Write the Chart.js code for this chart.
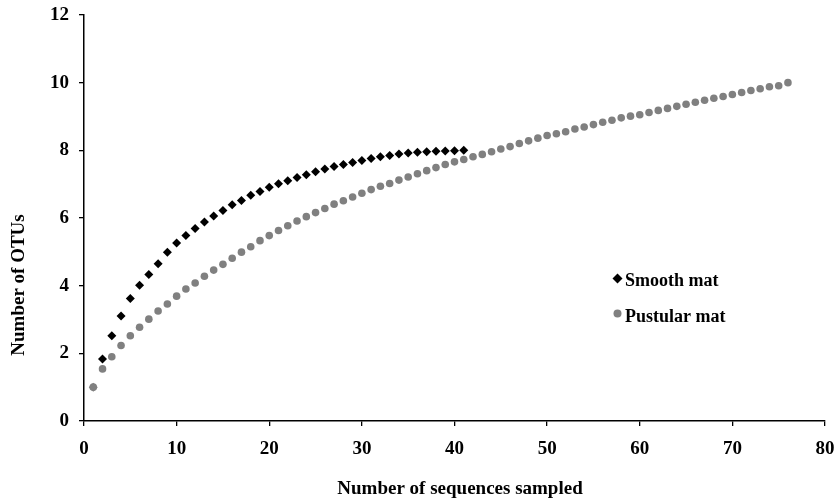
<!DOCTYPE html>
<html>
<head>
<meta charset="utf-8">
<script src="https://cdn.jsdelivr.net/npm/chart.js@4.4.1/dist/chart.umd.min.js"></script>
<style>
  html, body { margin: 0; padding: 0; background: #fff; }
  #wrap { width: 835px; height: 502px; }
</style>
</head>
<body>
<div id="wrap"><canvas id="myChart" width="835" height="502"></canvas></div>
<script>
// data (x = number of sequences sampled, starting at 1)
const smoothLabel = 'Smooth mat';
const pustularLabel = 'Pustular mat';
const smoothValues = [
  1.00, 1.83, 2.52, 3.10, 3.62, 4.01, 4.33, 4.65, 4.99, 5.26,
  5.48, 5.69, 5.88, 6.06, 6.22, 6.39, 6.52, 6.67, 6.78, 6.91,
  7.01, 7.10, 7.20, 7.28, 7.37, 7.45, 7.52, 7.58, 7.64, 7.70,
  7.76, 7.81, 7.85, 7.89, 7.92, 7.94, 7.96, 7.97, 7.98, 7.99,
  8.00
];
const pustularValues = [
  1.00, 1.54, 1.90, 2.23, 2.52, 2.77, 3.01, 3.25, 3.46, 3.69,
  3.90, 4.08, 4.28, 4.46, 4.63, 4.81, 4.99, 5.15, 5.33, 5.48,
  5.63, 5.77, 5.91, 6.04, 6.16, 6.28, 6.41, 6.51, 6.62, 6.73,
  6.84, 6.94, 7.02, 7.12, 7.21, 7.31, 7.40, 7.49, 7.58, 7.66,
  7.73, 7.81, 7.88, 7.96, 8.04, 8.11, 8.20, 8.28, 8.36, 8.44,
  8.49, 8.55, 8.63, 8.69, 8.76, 8.83, 8.89, 8.96, 9.01, 9.05,
  9.12, 9.18, 9.24, 9.30, 9.36, 9.42, 9.48, 9.54, 9.59, 9.65,
  9.71, 9.77, 9.82, 9.88, 9.91, 10.00
];
const xTitle = 'Number of sequences sampled';
const yTitle = 'Number of OTUs';

const toPoints = vals => vals.map((v, i) => ({ x: i + 1, y: v }));

const FONT = '"Liberation Serif", "Times New Roman", serif';

// axis titles and legend drawn by hand so they sit where the original has them
const extras = {
  id: 'extras',
  afterDraw(chart) {
    const ctx = chart.ctx;
    ctx.save();
    ctx.fillStyle = '#000';
    ctx.font = 'bold 19px ' + FONT;
    ctx.textAlign = 'center';
    ctx.textBaseline = 'middle';
    ctx.fillText(xTitle, 460, 489);

    ctx.translate(19, 285);
    ctx.rotate(-Math.PI / 2);
    ctx.fillText(yTitle, 0, 0);
    ctx.restore();

    // legend
    ctx.save();
    ctx.font = 'bold 18px ' + FONT;
    ctx.textAlign = 'left';
    ctx.textBaseline = 'middle';
    ctx.fillStyle = '#000';
    ctx.beginPath();
    ctx.moveTo(617.5, 273.5); ctx.lineTo(622.5, 278.5); ctx.lineTo(617.5, 283.5); ctx.lineTo(612.5, 278.5);
    ctx.closePath();
    ctx.fill();
    ctx.fillText(chart.data.datasets[0].label, 625, 281);

    ctx.fillStyle = '#808080';
    ctx.beginPath();
    ctx.arc(617.5, 313.5, 4, 0, Math.PI * 2);
    ctx.fill();
    ctx.fillStyle = '#000';
    ctx.fillText(chart.data.datasets[1].label, 625, 317);
    ctx.restore();
  }
};

const ctx = document.getElementById('myChart').getContext('2d');
const myChart = new Chart(ctx, {
  type: 'scatter',
  data: {
    datasets: [
      {
        label: smoothLabel,
        data: toPoints(smoothValues),
        pointStyle: 'rectRot',
        pointRadius: 4.5,
        pointBackgroundColor: c => (c.dataIndex === 0 ? '#808080' : '#000'),
        pointBorderWidth: 0,
        order: 0,
      },
      {
        label: pustularLabel,
        data: toPoints(pustularValues),
        pointStyle: 'circle',
        pointRadius: 3.8,
        pointBackgroundColor: '#808080',
        pointBorderWidth: 0,
        order: 1,
      },
    ],
  },
  options: {
    responsive: false,
    animation: false,
    layout: { padding: { top: 15, right: 10, left: 0, bottom: 0 } },
    plugins: {
      legend: { display: false },
      tooltip: { enabled: false },
    },
    scales: {
      x: {
        type: 'linear',
        min: 0,
        max: 80,
        afterFit: s => { s.height = 81; s.paddingLeft = 0; s.paddingRight = 0; },
        ticks: {
          stepSize: 10,
          color: '#000',
          padding: 12,
          maxRotation: 0,
          font: { family: FONT, size: 19, weight: 'bold' },
        },
        grid: { drawOnChartArea: false, drawTicks: true, tickLength: 5, color: '#000', lineWidth: 1.3 },
        border: { color: '#000', width: 1.5 },
      },
      y: {
        min: 0,
        max: 12,
        afterFit: s => { s.width = 84; s.paddingTop = 0; s.paddingBottom = 0; },
        ticks: {
          stepSize: 2,
          color: '#000',
          padding: 10,
          font: { family: FONT, size: 19, weight: 'bold' },
        },
        grid: { drawOnChartArea: false, drawTicks: true, tickLength: 5, color: '#000', lineWidth: 1.3 },
        border: { color: '#000', width: 1.5 },
      },
    },
  },
  plugins: [extras],
});
</script>
</body>
</html>
